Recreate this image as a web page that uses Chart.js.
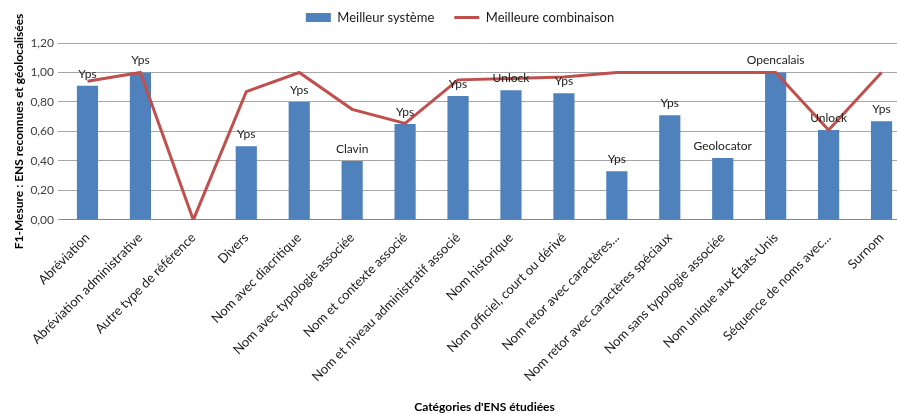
<!DOCTYPE html>
<html><head><meta charset="utf-8">
<script src="https://cdn.jsdelivr.net/npm/chart.js@4/dist/chart.umd.min.js"></script>
<style>html,body{margin:0;padding:0;overflow:hidden;background:#fff}#wrap{width:912px;height:414px}</style>
</head><body><div id="wrap"><canvas id="c" width="912" height="414"></canvas></div>
<script>
const categories = ["Abréviation","Abréviation administrative","Autre type de référence","Divers","Nom avec diacritique","Nom avec typologie associée","Nom et contexte associé","Nom et niveau administratif associé","Nom historique","Nom officiel, court ou dérivé","Nom retor avec caractères...","Nom retor avec caractères spéciaux","Nom sans typologie associée","Nom unique aux États-Unis","Séquence de noms avec...","Surnom"];
const meilleurSysteme = [0.91,1.00,0,0.50,0.80,0.40,0.65,0.84,0.88,0.86,0.33,0.71,0.42,1.00,0.61,0.67];
const meilleureCombinaison = [0.94,1.00,0,0.87,1.00,0.75,0.655,0.95,0.96,0.97,1.00,1.00,1.00,1.00,0.61,1.00];
const systemNames = ["Yps","Yps","","Yps","Yps","Clavin","Yps","Yps","Unlock","Yps","Yps","Yps","Geolocator","Opencalais","Unlock","Yps"];
const seriesNames = ["Meilleur système","Meilleure combinaison"];

const FONT = "Lato, 'Open Sans', sans-serif";
const barLabels = {
  id: 'barLabels',
  afterLayout(chart) {
    chart.legend.top -= 9;
    chart.legend.bottom -= 9;
  },
  afterDatasetsDraw(chart) {
    const meta = chart.getDatasetMeta(0);
    const ctx = chart.ctx;
    ctx.save();
    ctx.font = "12px " + FONT;
    ctx.fillStyle = "#1a1a1a";
    ctx.textAlign = "center";
    ctx.textBaseline = "middle";
    meta.data.forEach((el, i) => {
      if (!systemNames[i]) return;
      ctx.fillText(systemNames[i], el.x, el.y - 12);
    });
    ctx.restore();
  }
};

new Chart(document.getElementById('c'), {
  data: {
    labels: categories,
    datasets: [
      { type: 'bar', label: seriesNames[0], data: meilleurSysteme, backgroundColor: '#4F81BD', borderWidth: 0, categoryPercentage: 1, barPercentage: 0.4, order: 2 },
      { type: 'line', label: seriesNames[1], data: meilleureCombinaison, borderColor: '#C0504D', backgroundColor: '#C0504D', borderWidth: 3, pointRadius: 0, pointHoverRadius: 0, tension: 0, order: 1 }
    ]
  },
  options: {
    responsive: false,
    animation: false,
    layout: { padding: { left: 12, right: 4, top: 0, bottom: 0 } },
    plugins: {
      tooltip: { enabled: false },
      legend: {
        position: 'top',
        labels: {
          usePointStyle: true,
          pointStyleWidth: 25,
          boxHeight: 9,
          padding: 20,
          color: '#1a1a1a',
          font: { family: FONT, size: 13 },
          generateLabels(chart) {
            const items = Chart.defaults.plugins.legend.labels.generateLabels(chart);
            items.forEach(it => {
              if (it.text === seriesNames[0]) { it.pointStyle = 'rect'; it.lineWidth = 0; }
              else { it.pointStyle = 'line'; it.lineWidth = 3; it.strokeStyle = '#C0504D'; }
            });
            items.sort((a, b) => seriesNames.indexOf(a.text) - seriesNames.indexOf(b.text));
            return items;
          },
          sort: (a, b) => seriesNames.indexOf(a.text) - seriesNames.indexOf(b.text)
        }
      }
    },
    scales: {
      x: {
        offset: true,
        grid: { display: false, drawTicks: false },
        border: { display: true, color: '#868686', width: 1 },
        ticks: { minRotation: 45, maxRotation: 45, autoSkip: false, color: '#1a1a1a', font: { family: FONT, size: 13 }, padding: 10 },
        title: { display: true, text: "Catégories d'ENS étudiées", color: '#000', font: { family: FONT, size: 12, weight: 'bold' }, padding: { top: 5, bottom: 0 } }
      },
      y: {
        min: 0, max: 1.2,
        grid: { color: '#a6a6a6', lineWidth: 1, tickLength: 3, tickColor: '#a6a6a6' },
        border: { display: false },
        ticks: { stepSize: 0.2, color: '#404040', font: { family: FONT, size: 12 }, padding: 4,
          callback: v => v.toFixed(2).replace('.', ',') },
        title: { display: true, text: 'F1-Mesure : ENS reconnues et géolocalisées', color: '#000', font: { family: FONT, size: 12, weight: 'bold' }, padding: { top: 0, bottom: 0 } }
      }
    }
  },
  plugins: [barLabels]
});
</script>
</body></html>
